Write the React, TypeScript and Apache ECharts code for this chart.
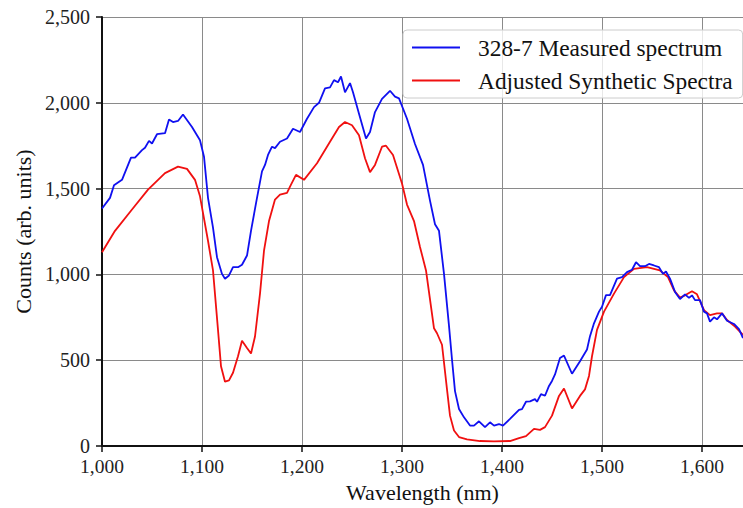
import React, { useEffect, useRef } from "react";
import * as echarts from "echarts";

const measuredWavelengths = [
  1000, 1008, 1012, 1020, 1029, 1033, 1040, 1043, 1047, 1050, 1055, 1063, 1067, 1071, 1076, 1081, 1090, 1098,
  1102, 1106, 1111, 1115, 1120, 1123, 1127, 1131, 1136, 1140, 1145, 1149, 1155, 1160, 1163, 1166, 1170, 1173,
  1178, 1185, 1191, 1198, 1205, 1212, 1217, 1223, 1228, 1232, 1236, 1239, 1243, 1248, 1251, 1257, 1264, 1268,
  1273, 1280, 1288, 1293, 1297, 1305, 1313, 1321, 1328, 1333, 1337, 1342, 1347, 1350, 1353, 1357, 1362, 1368,
  1372, 1377, 1383, 1388, 1392, 1397, 1401, 1408, 1417, 1420, 1424, 1428, 1433, 1435, 1439, 1443, 1447, 1450,
  1453, 1458, 1462, 1470, 1478, 1485, 1488, 1492, 1497, 1500, 1504, 1508, 1515, 1520, 1525, 1530, 1534, 1538,
  1543, 1547, 1552, 1557, 1561, 1564, 1568, 1573, 1578, 1583, 1587, 1590, 1593, 1598, 1602, 1605, 1608, 1612,
  1615, 1620, 1625, 1632, 1637, 1641,
];
const measuredCounts = [
  1384, 1446, 1519, 1551, 1680, 1680, 1724, 1738, 1778, 1763, 1817, 1823, 1903, 1888, 1894, 1932, 1859, 1782,
  1686, 1446, 1273, 1100, 1003, 975, 994, 1042, 1042, 1056, 1110, 1254, 1446, 1600, 1638, 1696, 1744, 1736,
  1773, 1792, 1849, 1830, 1907, 1975, 2000, 2084, 2090, 2132, 2120, 2153, 2061, 2115, 2061, 1936, 1792, 1830,
  1946, 2023, 2070, 2036, 2026, 1907, 1760, 1638, 1430, 1292, 1254, 1003, 700, 504, 320, 216, 167, 119,
  119, 144, 110, 138, 119, 128, 119, 158, 210, 215, 258, 260, 273, 258, 302, 293, 350, 379,
  417, 513, 527, 421, 494, 562, 640, 715, 783, 811, 879, 879, 975, 984, 1013, 1027, 1071, 1048,
  1048, 1061, 1052, 1042, 1003, 1017, 975, 898, 856, 884, 863, 878, 850, 850, 783, 773, 725, 750,
  738, 773, 730, 711, 681, 629,
];

const syntheticWavelengths = [
  1000, 1013, 1030, 1046, 1063, 1076, 1085, 1093, 1098, 1106, 1111, 1116, 1119, 1123, 1127, 1131, 1136, 1140,
  1145, 1149, 1153, 1158, 1162, 1167, 1173, 1178, 1185, 1189, 1194, 1202, 1215, 1228, 1237, 1243, 1250, 1257,
  1263, 1268, 1273, 1280, 1284, 1291, 1300, 1305, 1312, 1318, 1324, 1332, 1335, 1340, 1345, 1348, 1352, 1357,
  1365, 1378, 1392, 1408, 1417, 1424, 1432, 1438, 1443, 1450, 1457, 1462, 1470, 1478, 1483, 1487, 1490, 1495,
  1502, 1512, 1522, 1532, 1545, 1558, 1566, 1572, 1578, 1583, 1590, 1595, 1602, 1608, 1615, 1620, 1625, 1633,
  1641,
];
const syntheticCounts = [
  1129, 1254, 1378, 1494, 1590, 1628, 1615, 1551, 1455, 1196, 1023, 677, 465, 375, 382, 427, 523, 613,
  571, 539, 638, 888, 1138, 1311, 1436, 1465, 1475, 1523, 1580, 1551, 1648, 1773, 1859, 1888, 1869, 1811,
  1677, 1596, 1638, 1744, 1750, 1696, 1530, 1407, 1311, 1160, 1023, 686, 657, 590, 330, 177, 90, 52,
  39, 29, 27, 29, 46, 58, 100, 94, 110, 177, 292, 335, 219, 292, 330, 408, 523, 677,
  783, 888, 984, 1032, 1042, 1023, 984, 907, 865, 878, 902, 884, 792, 763, 773, 773, 734, 696,
  648,
];

const seriesNames = ["328-7 Measured spectrum", "Adjusted Synthetic Spectra"];
const xAxisTitle = "Wavelength (nm)";
const yAxisTitle = "Counts (arb. units)";

const FONT = "Liberation Serif";

export default function App() {
  const ref = useRef<HTMLDivElement>(null);

  useEffect(() => {
    if (!ref.current) return;
    const chart = echarts.init(ref.current, undefined, { renderer: "svg" });
    const fmt = (v: number) => v.toLocaleString("en-US");
    const measured = measuredWavelengths.map((w, i) => [w, measuredCounts[i]]);
    const synthetic = syntheticWavelengths.map((w, i) => [w, syntheticCounts[i]]);

    chart.setOption({
      animation: false,
      backgroundColor: "#ffffff",
      textStyle: { fontFamily: FONT },
      grid: { left: 102, right: 0, top: 17, bottom: 57, containLabel: false },
      xAxis: {
        type: "value",
        min: 1000,
        max: 1641,
        interval: 100,
        name: xAxisTitle,
        nameLocation: "middle",
        nameGap: 35,
        nameTextStyle: { fontFamily: FONT, fontSize: 22, color: "#111" },
        axisLine: { show: true, onZero: false, lineStyle: { color: "#111", width: 2 } },
        axisTick: { show: true, length: 6, lineStyle: { color: "#111", width: 1.5 } },
        axisLabel: { fontFamily: FONT, fontSize: 19.5, color: "#222", margin: 10, formatter: fmt },
        splitLine: { show: true, lineStyle: { color: "#8a8a8a", width: 1 } },
      },
      yAxis: {
        type: "value",
        min: 0,
        max: 2500,
        interval: 500,
        name: yAxisTitle,
        nameLocation: "middle",
        nameRotate: 90,
        nameGap: 68,
        nameTextStyle: { fontFamily: FONT, fontSize: 22, color: "#111" },
        axisLine: { show: true, onZero: false, lineStyle: { color: "#111", width: 2 } },
        axisTick: { show: true, length: 6, lineStyle: { color: "#111", width: 1.5 } },
        axisLabel: { fontFamily: FONT, fontSize: 20, color: "#222", margin: 12, formatter: fmt },
        splitLine: { show: true, lineStyle: { color: "#8a8a8a", width: 1 } },
      },
      legend: {
        orient: "vertical",
        left: 403,
        top: 30,
        icon: "rect",
        itemWidth: 48,
        itemHeight: 2,
        itemGap: 10,
        padding: [6, 10, 6, 9],
        backgroundColor: "rgba(255,255,255,0.8)",
        borderColor: "#cccccc",
        borderWidth: 1,
        borderRadius: 4,
        textStyle: { fontFamily: FONT, fontSize: 23.4, color: "#111", padding: [0, 0, 0, 13] },
        data: seriesNames,
      },
      series: [
        {
          name: seriesNames[0],
          type: "line",
          data: measured,
          showSymbol: false,
          symbol: "none",
          lineStyle: { color: "#1010f0", width: 1.8 },
          itemStyle: { color: "#1010f0" },
          z: 3,
        },
        {
          name: seriesNames[1],
          type: "line",
          data: synthetic,
          showSymbol: false,
          symbol: "none",
          lineStyle: { color: "#f01010", width: 1.8 },
          itemStyle: { color: "#f01010" },
          z: 2,
        },
      ],
    });
    return () => chart.dispose();
  }, []);

  return (
    <div
      ref={ref}
      style={{ position: "fixed", left: 0, top: 0, width: 743, height: 508 }}
    />
  );
}
